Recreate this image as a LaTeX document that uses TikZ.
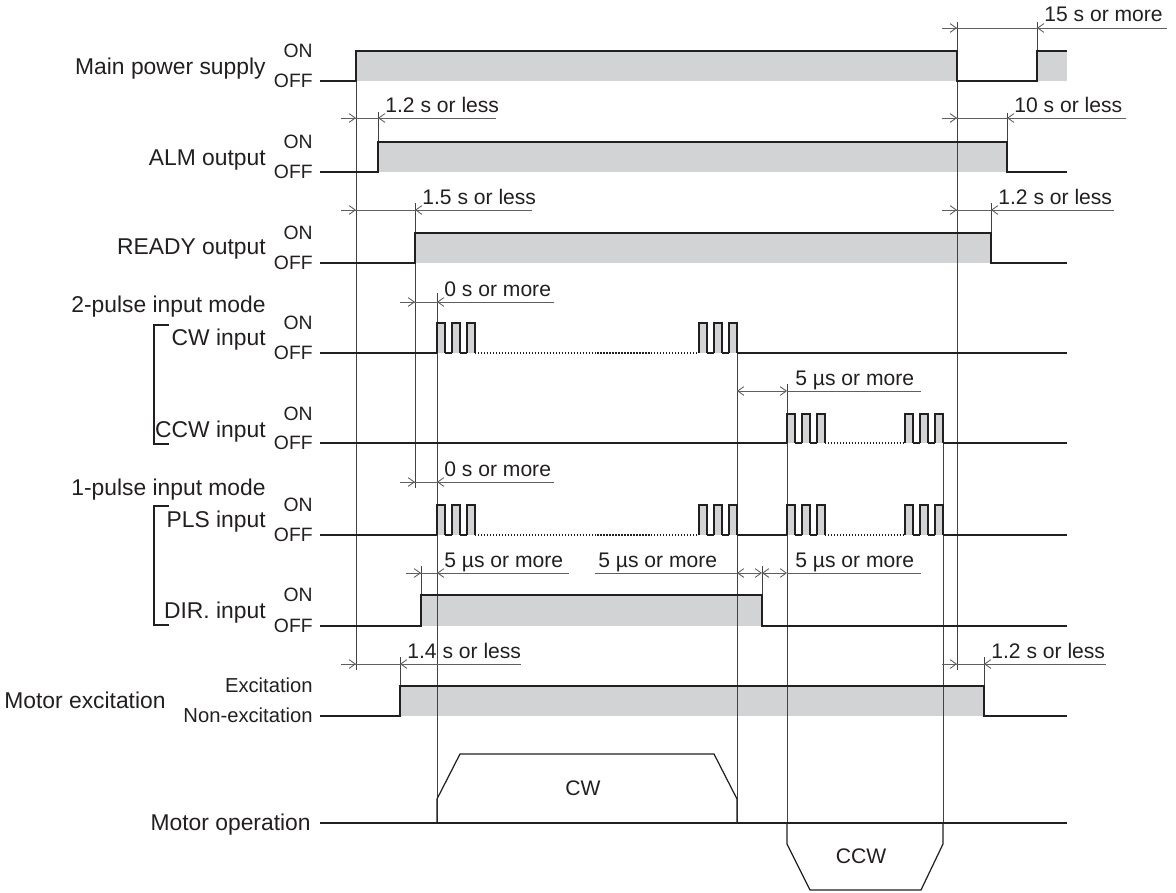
\documentclass[tikz,border=0pt]{standalone}
\usepackage{fontspec}
\setmainfont{Liberation Sans}
\usetikzlibrary{arrows.meta}
\definecolor{ink}{RGB}{35,31,32}
\definecolor{bar}{RGB}{209,211,212}
\definecolor{dimgray}{RGB}{95,95,95}

\begin{document}
\begin{tikzpicture}[x=0.2mm, y=-0.2mm, >={Straight Barb[length=3.5pt,width=5pt]},
    font=\fontsize{13}{15}\selectfont, text=ink,
    sig/.style={draw=ink, line width=0.8pt},
    refl/.style={draw=ink!85, line width=0.45pt},
    dimline/.style={draw=dimgray, line width=0.5pt},
    sname/.style={anchor=base east, inner xsep=0pt},
    lvl/.style={anchor=base east, inner xsep=0pt, font=\fontsize{11}{13}\selectfont},
    dimtxt/.style={anchor=base west, inner xsep=0pt, font=\fontsize{12}{14}\selectfont}]
    \useasboundingbox (0,0) rectangle (1176,893);

    % signal names
    \node[sname] (mps) at (266,74) {Main power supply};
    \node[sname] (alm) at (266,165) {ALM output};
    \node[sname] (rdy) at (266,254) {READY output};
    \node[sname] (mode2) at (266,312) {2-pulse input mode};
    \node[sname] (cw) at (266,345) {CW input};
    \node[sname] (ccw) at (266,437) {CCW input};
    \node[sname] (mode1) at (266,495) {1-pulse input mode};
    \node[sname] (pls) at (266,527) {PLS input};
    \node[sname] (dir) at (266,618) {DIR. input};
    \node[anchor=base west, inner xsep=0pt] (exc) at (4,708) {Motor excitation};
    \node[sname] (op) at (311,830) {Motor operation};
    \draw[ink, line width=0.6pt] (169,325) -- (154,325) -- (154,444) -- (169,444);
    \draw[ink, line width=0.6pt] (169,506) -- (154,506) -- (154,625) -- (169,625);

    % ON / OFF levels
    \foreach \n/\yh/\yl in {mps/51/81, alm/142/172, rdy/233/263, cw/323/353,
                             ccw/414/443, pls/505/535, dir/595/626} {
        \node[lvl] (\n on) at (313,\yh+6) {ON};
        \node[lvl] (\n off) at (313,\yl+6) {OFF};
    }
    \node[lvl, font=\fontsize{11.5}{13}\selectfont] (exc on) at (313,692) {Excitation};
    \node[lvl, font=\fontsize{11.5}{13}\selectfont] (exc off) at (313,722) {Non-excitation};

    % grey ON areas
    \fill[bar] (356,51) rectangle (957,81);
    \fill[bar] (1037,51) rectangle (1067,81);
    \foreach \xa/\xb/\yh/\yl in {378/1007/142/172, 415/991/233/263,
                                 421/762/595/626, 400/984/686/716}
        \fill[bar] (\xa,\yh) rectangle (\xb,\yl);

    % timing reference lines
    \draw[refl] (356,81) -- (356,670);
    \draw[refl] (378,112) -- (378,142);
    \draw[refl] (415,203) -- (415,488);
    \draw[refl] (437,293) -- (437,823);
    \draw[refl] (421,566) -- (421,595);
    \draw[refl] (400,657) -- (400,686);
    \draw[refl] (957,22) -- (957,670);
    \draw[refl] (1037,22) -- (1037,51);
    \draw[refl] (1007,113) -- (1007,142);
    \draw[refl] (991,203) -- (991,233);
    \draw[refl] (737,353) -- (737,823);
    \draw[refl] (787,384) -- (787,823);
    \draw[refl] (943,443) -- (943,823);
    \draw[refl] (762,566) -- (762,595);
    \draw[refl] (984,657) -- (984,686);

    % level signals
    \draw[sig] (320,81) -- (356,81) -- (356,51) -- (957,51) -- (957,81)
        -- (1037,81) -- (1037,51) -- (1067,51);
    \foreach \xa/\xb/\yh/\yl in {378/1007/142/172, 415/991/233/263,
                                 421/762/595/626, 400/984/686/716}
        \draw[sig] (320,\yl) -- (\xa,\yl) -- (\xa,\yh) -- (\xb,\yh) -- (\xb,\yl) -- (1067,\yl);

    % pulse trains
    \foreach \xs/\yh/\yl in {437/323/353, 699/323/353, 787/414/443, 905/414/443,
                             437/505/535, 699/505/535, 787/505/535, 905/505/535} {
        \foreach \k in {0,1,2} {
            \fill[bar] (\xs+15*\k,\yh) rectangle (\xs+15*\k+8,\yl);
            \draw[sig] (\xs+15*\k,\yl) -- (\xs+15*\k,\yh) -- (\xs+15*\k+8,\yh) -- (\xs+15*\k+8,\yl);
        }
        \draw[sig] (\xs+8,\yl) -- (\xs+15,\yl) (\xs+23,\yl) -- (\xs+30,\yl);
    }
    \draw[sig] (320,353) -- (437,353) (737,353) -- (1067,353);
    \draw[sig] (320,443) -- (787,443) (943,443) -- (1067,443);
    \draw[sig] (320,535) -- (437,535) (737,535) -- (787,535) (943,535) -- (1067,535);
    \draw[ink, line width=0.7pt, densely dotted] (475,353) -- (699,353);
    \draw[ink, line width=0.7pt, densely dotted] (825,443) -- (905,443);
    \draw[ink, line width=0.7pt, densely dotted] (475,535) -- (699,535) (825,535) -- (905,535);

    % motor operation
    \draw[sig] (320,823) -- (1067,823);
    \draw[sig, line width=0.7pt] (437,823) -- (437,799) -- (460,754) -- (714,754) -- (737,799) -- (737,823);
    \draw[sig, line width=0.7pt] (787,823) -- (787,844) -- (810,890) -- (921,890) -- (943,844) -- (943,823);
    \node[font=\fontsize{12}{14}\selectfont] (cwrun) at (583,788) {CW};
    \node[font=\fontsize{12}{14}\selectfont] (ccwrun) at (861,856) {CCW};

    % dimensions: arrow in at xb from the left, arrow in at xc from the right
    \foreach \xb/\xc/\xe/\yy/\txt [count=\i] in {
            957/1037/1167/28/15 s or more, 356/378/496/118/1.2 s or less,
            957/1007/1126/118/10 s or less, 356/415/532/210/1.5 s or less,
            957/991/1114/210/1.2 s or less, 415/437/554/302/0 s or more,
            415/437/554/482/0 s or more, 421/437/569/573/5 µs or more,
            356/400/521/664/1.4 s or less, 957/984/1106/664/1.2 s or less} {
        \draw[dimline] (\xb-15,\yy) -- (\xe,\yy);
        \draw[dimline, ->] (\xb-15,\yy) -- (\xb,\yy);
        \draw[dimline, ->] (\xc+15,\yy) -- (\xc,\yy);
        \node[dimtxt] (dim\i) at (\xc+7,\yy-6) {\txt};
    }
    % dimensions between two edges, arrows pointing out
    \draw[dimline, <->] (737,391) -- (787,391);
    \draw[dimline] (787,391) -- (921,391);
    \node[dimtxt] (ccwgap) at (795,385) {5 µs or more};
    \draw[dimline, <->] (737,573) -- (762,573);
    \draw[dimline, <->] (762,573) -- (787,573);
    \draw[dimline] (595,573) -- (737,573) (787,573) -- (921,573);
    \node[dimtxt] (dirgapa) at (598,567) {5 µs or more};
    \node[dimtxt] (dirgapb) at (795,567) {5 µs or more};
\end{tikzpicture}
\end{document}
